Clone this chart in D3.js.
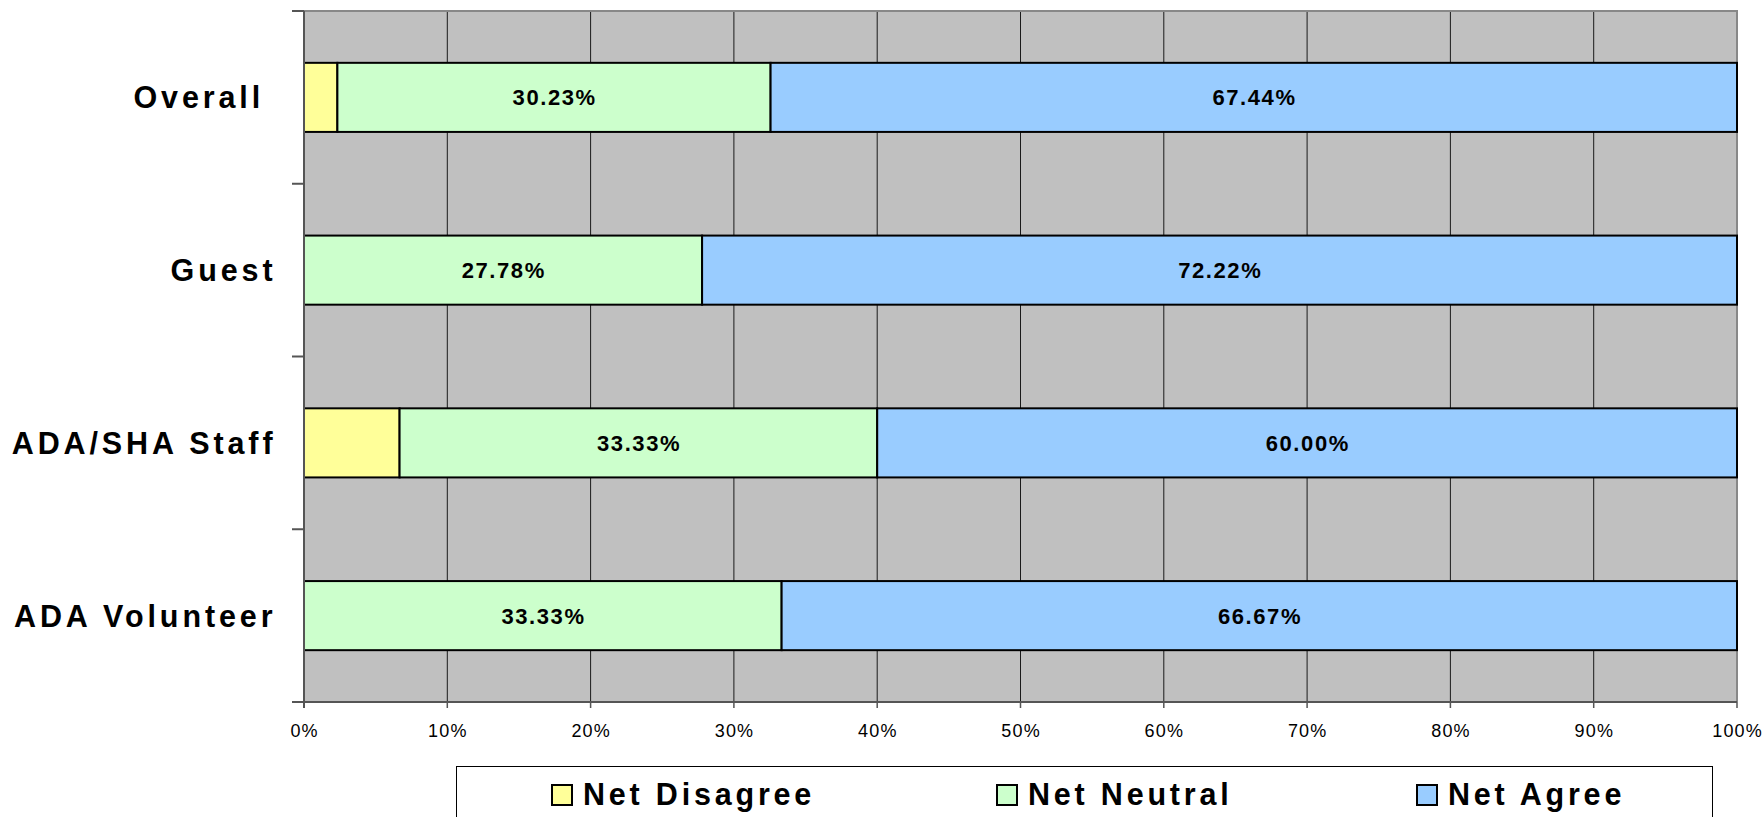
<!DOCTYPE html>
<html>
<head>
<meta charset="utf-8">
<script src="https://cdn.jsdelivr.net/npm/d3@7"></script>
<style>
  html, body { margin: 0; padding: 0; background: #fff; }
  svg { display: block; }
  text { font-family: "Liberation Sans", Arial, sans-serif; fill: #000; }
</style>
</head>
<body>
<svg id="chart" width="1764" height="817"></svg>
<script>
const categories = ["Overall ", "Guest", "ADA/SHA Staff", "ADA Volunteer"];
const seriesNames = ["Net Disagree", "Net Neutral", "Net Agree"];
const netDisagree = [2.33, 0, 6.67, 0];
const netNeutral  = [30.23, 27.78, 33.33, 33.33];
const netAgree    = [67.44, 72.22, 60.00, 66.67];
const xTicks = [0, 10, 20, 30, 40, 50, 60, 70, 80, 90, 100];
const colors = ["#FFFF99", "#CCFFCC", "#99CCFF"];

const svg = d3.select("#chart");
const plot = { left: 304, right: 1737, top: 11, bottom: 702 };

const x = d3.scaleLinear().domain([0, 100]).range([plot.left, plot.right]);
const y = d3.scaleBand().domain(categories).range([plot.top, plot.bottom])
  .paddingInner(0.6).paddingOuter(0.3);

// background
svg.append("rect")
  .attr("x", plot.left).attr("y", plot.top)
  .attr("width", plot.right - plot.left).attr("height", plot.bottom - plot.top)
  .attr("fill", "#C0C0C0");

// gridlines
svg.append("g").selectAll("line").data(xTicks.filter(d => d > 0 && d < 100)).join("line")
  .attr("x1", d => x(d)).attr("x2", d => x(d))
  .attr("y1", plot.top).attr("y2", plot.bottom)
  .attr("stroke", "#1a1a1a").attr("stroke-width", 1);

// top & right border
svg.append("path")
  .attr("d", `M${plot.left},${plot.top}H${plot.right}V${plot.bottom}`)
  .attr("fill", "none").attr("stroke", "#888").attr("stroke-width", 2);

// stacked data
const rows = categories.map((c, i) => ({ cat: c, vals: [netDisagree[i], netNeutral[i], netAgree[i]] }));
const segs = [];
rows.forEach(r => {
  let acc = 0;
  r.vals.forEach((v, k) => {
    segs.push({ cat: r.cat, k, x0: acc, x1: acc + v, v });
    acc += v;
  });
});

svg.append("g").selectAll("rect").data(segs.filter(s => s.v > 0)).join("rect")
  .attr("x", d => x(d.x0)).attr("width", d => x(d.x1) - x(d.x0))
  .attr("y", d => y(d.cat)).attr("height", y.bandwidth())
  .attr("fill", d => colors[d.k])
  .attr("stroke", "#000").attr("stroke-width", 2);

// data labels (neutral + agree)
svg.append("g").selectAll("text").data(segs.filter(s => s.k > 0 && s.v > 0)).join("text")
  .attr("x", d => (x(d.x0) + x(d.x1)) / 2 + 0.7)
  .attr("y", d => y(d.cat) + y.bandwidth() / 2 + 8)
  .attr("text-anchor", "middle")
  .attr("font-size", 22).attr("font-weight", "bold")
  .attr("letter-spacing", 1.6)
  .text(d => d.v.toFixed(2) + "%");

// left axis
svg.append("line")
  .attr("x1", plot.left).attr("x2", plot.left)
  .attr("y1", plot.top).attr("y2", plot.bottom + 6)
  .attr("stroke", "#555").attr("stroke-width", 2);
const yBounds = d3.range(categories.length + 1).map(i => plot.top + i * (plot.bottom - plot.top) / categories.length);
svg.append("g").selectAll("line").data(yBounds).join("line")
  .attr("x1", plot.left - 12).attr("x2", plot.left)
  .attr("y1", d => d).attr("y2", d => d)
  .attr("stroke", "#555").attr("stroke-width", 2);

// category labels
svg.append("g").selectAll("text").data(categories).join("text")
  .attr("x", 276.5)
  .attr("y", d => y(d) + y.bandwidth() / 2 + 11)
  .attr("text-anchor", "end")
  .attr("font-size", 30.5).attr("font-weight", "bold")
  .attr("letter-spacing", 3.9)
  .attr("xml:space", "preserve")
  .style("white-space", "pre")
  .text(d => d);

// bottom axis
svg.append("line")
  .attr("x1", plot.left - 12).attr("x2", plot.right)
  .attr("y1", plot.bottom).attr("y2", plot.bottom)
  .attr("stroke", "#555").attr("stroke-width", 2);
svg.append("g").selectAll("line").data(xTicks).join("line")
  .attr("x1", d => x(d)).attr("x2", d => x(d))
  .attr("y1", plot.bottom).attr("y2", plot.bottom + 6)
  .attr("stroke", "#555").attr("stroke-width", 1.5);
svg.append("g").selectAll("text").data(xTicks).join("text")
  .attr("x", d => x(d) + 0.6)
  .attr("y", 737)
  .attr("text-anchor", "middle")
  .attr("font-size", 18)
  .attr("letter-spacing", 1.2)
  .text(d => d + "%");

// legend
svg.append("rect")
  .attr("x", 456.5).attr("y", 766.5).attr("width", 1256).attr("height", 80)
  .attr("fill", "#fff").attr("stroke", "#000").attr("stroke-width", 1);
const legendX = [551, 996, 1416];
const lg = svg.append("g").selectAll("g").data(seriesNames).join("g")
  .attr("transform", (d, i) => `translate(${legendX[i]},0)`);
lg.append("rect")
  .attr("x", 1).attr("y", 785).attr("width", 20).attr("height", 20)
  .attr("fill", (d, i) => colors[i]).attr("stroke", "#000").attr("stroke-width", 2);
lg.append("text")
  .attr("x", 32).attr("y", 805)
  .attr("font-size", 30.5).attr("font-weight", "bold")
  .attr("letter-spacing", 3.8)
  .text(d => d);
</script>
</body>
</html>
